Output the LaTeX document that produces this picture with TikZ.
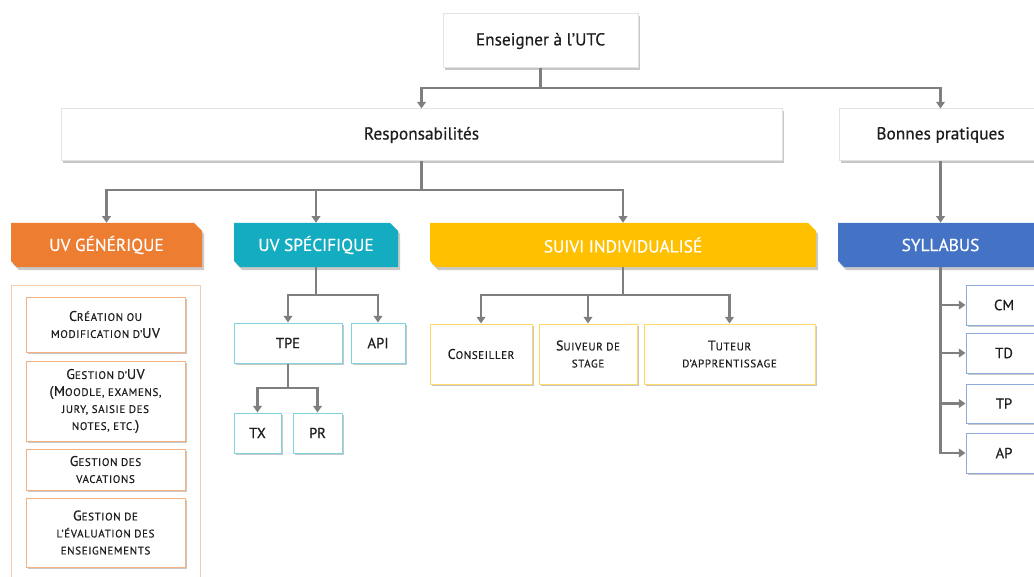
\documentclass[tikz,border=0pt]{standalone}
\usepackage{fontspec}
\setmainfont{PT Sans}[FakeBold=0.5]
\usetikzlibrary{arrows.meta,shadows,calc}
\definecolor{arrgray}{HTML}{7F7F7F}
\definecolor{boxgray}{HTML}{E3E3E3}
\definecolor{txt}{HTML}{1E1E1E}
\definecolor{ora}{HTML}{ED7D31}
\definecolor{oraL}{HTML}{F4B183}
\definecolor{oraLL}{HTML}{F8CBAD}
\definecolor{teal}{HTML}{13ACC0}
\definecolor{tealL}{HTML}{7FD4E0}
\definecolor{yel}{HTML}{FFC000}
\definecolor{yelL}{HTML}{FFD966}
\definecolor{blu}{HTML}{4472C4}
\definecolor{bluL}{HTML}{8FAADC}
\newcommand\bgc[1]{{\fontsize{10.5}{12.75}\selectfont\addfontfeature{LetterSpace=4}#1}}
\newcommand\smc[1]{{\fontsize{8.2}{12.75}\selectfont\addfontfeature{LetterSpace=6}\MakeUppercase{#1}}}
\tikzset{
  x=0.75pt, y=-0.75pt,
  arr/.style={draw=arrgray, line width=2.2pt, -{Triangle[length=5pt,width=6.5pt]}},
  shad/.style={drop shadow={shadow xshift=1.3pt, shadow yshift=-1.3pt, opacity=0.4, fill=black!55}},
  bx/.style={fill=white, line width=0.75pt, inner sep=0pt, shad, text=txt, align=center},
  topbox/.style={bx, draw=boxgray, font=\fontsize{13}{15}\selectfont},
  genbox/.style={bx, draw=oraL, font=\fontsize{10}{12.75}\selectfont},
  specbox/.style={bx, draw=tealL, font=\fontsize{11}{13}\selectfont},
  suibox/.style={bx, draw=yelL, font=\fontsize{10}{12.75}\selectfont},
  sylbox/.style={bx, draw=bluL, font=\fontsize{11}{13}\selectfont},
  bantext/.style={inner sep=0pt, text=white, font=\fontsize{13}{15}\selectfont},
}
% name, x1, y1, x2, y2, style, text
\newcommand\bxn[7]{\node[#6, minimum width={(#4-#2)*0.75pt}, minimum height={(#5-#3)*0.75pt}] (#1) at ({(#2+#4)/2},{(#3+#5)/2}) {#7};}
% name, x1, y1, x2, y2, colour, text
\newcommand\banner[7]{%
  \fill[black!60, opacity=0.35] ({#2+2},{#3+3}) -- ({#4-8+2},{#3+3}) -- ({#4+2},{#3+8+3}) -- ({#4+2},{#5+3}) -- ({#2+6+2},{#5+3}) -- ({#2+2},{#5-6+3}) -- cycle;
  \fill[#6] (#2,#3) -- ({#4-8},#3) -- (#4,{#3+8}) -- (#4,#5) -- ({#2+6},#5) -- (#2,{#5-6}) -- cycle;
  \node[bantext, minimum width={(#4-#2)*0.75pt}, minimum height={(#5-#3)*0.75pt}] (#1) at ({(#2+#4)/2},{(#3+#5)/2}) {#7};}
\begin{document}
\begin{tikzpicture}
\clip (0,0) rectangle (1034,577);
\fill[white] (0,0) rectangle (1034,577);
% top level
\bxn{top}{443}{14}{638}{68}{topbox}{Enseigner à l’UTC}
\bxn{resp}{61}{109}{782}{161}{topbox}{Responsabilités}
\bxn{bonnes}{839}{109}{1042}{161}{topbox}{Bonnes pratiques}
% banners
\banner{gen}{11}{223}{202}{267}{ora}{UV GÉNÉRIQUE}
\banner{spec}{234}{223}{398}{267}{teal}{UV SPÉCIFIQUE}
\banner{sui}{430}{223}{816}{267}{yel}{SUIVI INDIVIDUALISÉ}
\banner{syl}{838}{223}{1043}{267}{blu}{SYLLABUS}
% generic frame
\draw[oraLL, line width=0.75pt] (11,580) -- (11,285) -- (200,285) -- (200,580);
\bxn{g1}{26}{297}{185}{352}{genbox}{\bgc{C}\smc{réation ou}\\\smc{modification d’}\bgc{UV}}
\bxn{g2}{26}{361}{185}{441}{genbox}{\bgc{G}\smc{estion d’}\bgc{UV}\\\bgc{(M}\smc{oodle, examens,}\\\smc{jury, saisie des}\\\smc{notes, etc.}\bgc{)}}
\bxn{g3}{26}{449}{185}{490}{genbox}{\bgc{G}\smc{estion des}\\\smc{vacations}}
\bxn{g4}{26}{498}{185}{567}{genbox}{\bgc{G}\smc{estion de}\\\smc{l’évaluation des}\\\smc{enseignements}}
% specific
\bxn{tpe}{234}{323}{342}{363}{specbox}{TPE}
\bxn{api}{351}{323}{405}{363}{specbox}{API}
\bxn{tx}{234}{413}{281}{453}{specbox}{TX}
\bxn{pr}{293}{413}{342}{453}{specbox}{PR}
% suivi
\bxn{cons}{430}{324}{532}{384}{suibox}{\bgc{C}\smc{onseiller}}
\bxn{suiv}{539}{324}{637}{384}{suibox}{\bgc{S}\smc{uiveur de}\\\smc{stage}}
\bxn{tut}{644}{324}{815}{384}{suibox}{\bgc{T}\smc{uteur}\\\smc{d’apprentissage}}
% syllabus
\bxn{cm}{966}{285}{1042}{325}{sylbox}{CM}
\bxn{td}{966}{333}{1042}{373}{sylbox}{TD}
\bxn{tp}{966}{384}{1042}{423}{sylbox}{TP}
\bxn{ap}{966}{433}{1042}{473}{sylbox}{AP}
% connectors
\draw[arr] (top.south) -- (top.south |- 0,88) -| (resp.north);
\draw[arr] (top.south) -- (top.south |- 0,88) -| (bonnes.north);
\draw[arr] (resp.south) -- (resp.south |- 0,190) -| (gen.north);
\draw[arr] (resp.south) -- (resp.south |- 0,190) -| (spec.north);
\draw[arr] (resp.south) -- (resp.south |- 0,190) -| (sui.north);
\draw[arr] (bonnes.south) -- (syl.north);
\draw[arr] (spec.south) -- (spec.south |- 0,295) -| (tpe.north);
\draw[arr] (spec.south) -- (spec.south |- 0,295) -| (api.north);
\draw[arr] (tpe.south) -- (tpe.south |- 0,388) -| (tx.north);
\draw[arr] (tpe.south) -- (tpe.south |- 0,388) -| (pr.north);
\draw[arr] (sui.south) -- (sui.south |- 0,295) -| (cons.north);
\draw[arr] (sui.south) -- (sui.south |- 0,295) -| (suiv.north);
\draw[arr] (sui.south) -- (sui.south |- 0,295) -| (tut.north);
\draw[arr] (syl.south) |- (cm.west);
\draw[arr] (syl.south) |- (td.west);
\draw[arr] (syl.south) |- (tp.west);
\draw[arr] (syl.south) |- (ap.west);
\end{tikzpicture}
\end{document}
